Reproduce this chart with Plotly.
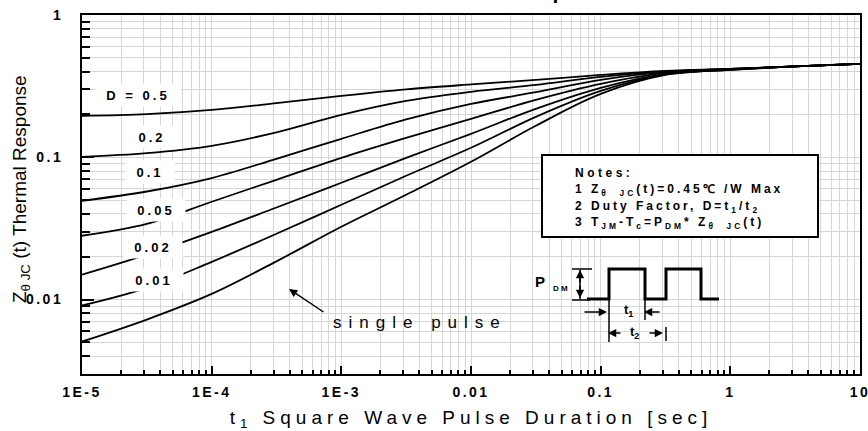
import json
import plotly.graph_objects as go

# ---- data ----
t1 = [1e-5, 3.16e-5, 1e-4, 3.16e-4, 1e-3, 3.16e-3, 1e-2, 3.16e-2, 0.1, 0.316, 1, 3.16, 10]

z_d050 = [0.1955, 0.2010, 0.2154, 0.2401, 0.2701, 0.3000, 0.3253, 0.3499, 0.3793, 0.4046, 0.4179, 0.4351, 0.4530]
z_d020 = [0.1008, 0.1070, 0.1204, 0.1497, 0.1987, 0.2491, 0.2883, 0.3227, 0.3672, 0.4013, 0.4179, 0.4351, 0.4530]
z_d010 = [0.0495, 0.0575, 0.0715, 0.0976, 0.1349, 0.1847, 0.2374, 0.2866, 0.3499, 0.3981, 0.4179, 0.4351, 0.4530]
z_d005 = [0.0281, 0.0340, 0.0487, 0.0695, 0.0992, 0.1370, 0.1863, 0.2532, 0.3280, 0.3917, 0.4145, 0.4351, 0.4530]
z_d002 = [0.01497, 0.0207, 0.0299, 0.0444, 0.0662, 0.0992, 0.1462, 0.2189, 0.3074, 0.3855, 0.4145, 0.4351, 0.4530]
z_d001 = [0.00908, 0.01208, 0.0184, 0.0290, 0.0464, 0.0742, 0.1166, 0.1924, 0.2929, 0.3824, 0.4112, 0.4351, 0.4530]
z_single = [0.00507, 0.00724, 0.01096, 0.01857, 0.0325, 0.0545, 0.0930, 0.1665, 0.2790, 0.3793, 0.4112, 0.4351, 0.4530]

series = [z_d050, z_d020, z_d010, z_d005, z_d002, z_d001, z_single]
curve_labels = ["D = 0.5", "0.2", "0.1", "0.05", "0.02", "0.01"]

x_tick_vals = [1e-5, 1e-4, 1e-3, 1e-2, 0.1, 1, 10]
x_tick_text = ["1E-5", "1E-4", "1E-3", "0.01", "0.1", "1", "10"]
y_tick_vals = [0.01, 0.1, 1]
y_tick_text = ["0.01", "0.1", "1"]

x_minor = [m * 10.0 ** e for e in range(-5, 1) for m in range(2, 10)]
y_minor = [m * 10.0 ** e for e in range(-3, 0) for m in range(2, 10) if m * 10.0 ** e >= 0.003]

W, H = 868, 431
L, R, T, B = 82, 8, 15, 57
PW, PH = W - L - R, H - T - B


def px(x):
    return (x - L) / PW


def py(y):
    return (H - B - y) / PH


def path(pts):
    return "M " + " L ".join("%.5f,%.5f" % (px(a), py(b)) for a, b in pts)


FONT = "Liberation Sans, Arial, sans-serif"

fig = go.Figure()
for z in series:
    fig.add_trace(go.Scatter(x=t1, y=z, mode="lines", line=dict(color="black", width=1.8, shape="spline"),
                             showlegend=False, hoverinfo="skip"))

annotations = []
spacing = []


def ann(text, x, y, size, bold=True, ls=0, **kw):
    t = "<b>%s</b>" % text if bold else text
    d = dict(text=t, x=px(x), y=py(y), xref="paper", yref="paper", showarrow=False,
             xanchor="center", yanchor="middle",
             font=dict(family=FONT, size=size, color="black"))
    d.update(kw)
    annotations.append(d)
    spacing.append(ls)


def arrow(x, y, ax, ay):
    annotations.append(dict(x=px(x), y=py(y), xref="paper", yref="paper", ax=ax, ay=ay, text="",
                            showarrow=True, arrowhead=2, arrowsize=1.1, arrowwidth=1.5, arrowcolor="black"))
    spacing.append(0)


# title (mostly above the page, as in the original)
ann("Transient Thermal Impedance", 473, 5.5, 21, ls=2.5, yanchor="bottom")

# curve labels with white background
label_pos = [(138, 95, 82), (152, 137, 46), (150, 172, 46), (156, 210, 56), (153, 247, 56), (154, 280, 56)]
for lab, (x, y, w) in zip(curve_labels, label_pos):
    ann(lab, x, y, 13, ls=3, bgcolor="white", width=w, height=20)

# y axis title
ann("Z<sub>θ JC</sub> (t) Thermal Response", 21, 189, 19, bold=False, textangle=-90)

# single pulse
ann("single pulse", 331, 322, 17, bold=False, ls=7, xanchor="left", align="left")
arrow(289, 289, 36, 24)

# notes
ann("Notes:", 573, 173, 12, ls=3.5, xanchor="left", align="left")
ann("1 Z<sub>θ  JC</sub>(t)=0.45℃ /W Max", 573, 190, 12, ls=3, xanchor="left", align="left")
ann("2 Duty Factor, D=t<sub>1</sub>/t<sub>2</sub>", 573, 207, 12, ls=3, xanchor="left", align="left")
ann("3 T<sub>JM</sub>-T<sub>c</sub>=P<sub>DM</sub>* Z<sub>θ  JC</sub>(t)", 573, 223, 12, ls=3,
    xanchor="left", align="left")

# pulse diagram labels
ann("P", 540, 281, 15)
ann("D M", 560, 288, 8)
ann("t<sub>1</sub>", 628, 310, 13)
ann("t<sub>2</sub>", 634, 332, 13)

for x, y, ax, ay in [(580, 270, 0, 14), (580, 298, 0, -14), (607, 312, -24, 0), (644, 312, 17, 0),
                     (608, 333, 14, 0), (663, 333, -15, 0)]:
    arrow(x, y, ax, ay)

shapes = [
    dict(type="rect", xref="paper", yref="paper", x0=px(542), x1=px(818), y0=py(237), y1=py(155),
         line=dict(color="black", width=2), fillcolor="white"),
    dict(type="path", xref="paper", yref="paper",
         path=path([(587, 299), (609, 299), (609, 269), (645, 269), (645, 299), (666, 299),
                    (666, 269), (701, 269), (701, 299), (719, 299)]),
         line=dict(color="black", width=3)),
]
thin = [[(572, 269), (592, 269)], [(572, 300), (590, 300)], [(580, 270), (580, 299)],
        [(609, 299), (609, 342)], [(645, 299), (645, 320)], [(666, 327), (666, 341)]]
for seg in thin:
    shapes.append(dict(type="path", xref="paper", yref="paper", path=path(seg),
                       line=dict(color="black", width=1.5)))

axis_common = dict(type="log", showline=True, mirror=True, linecolor="black", linewidth=2,
                   ticks="inside", tickcolor="black", tickwidth=2, showgrid=True, gridcolor="#d6d6d6",
                   gridwidth=1, zeroline=False, tickmode="array", automargin=False,
                   tickfont=dict(family=FONT, size=14, color="black", weight="bold"))

fig.update_layout(
    width=W, height=H, margin=dict(l=L, r=R, t=T, b=B, autoexpand=False),
    paper_bgcolor="white", plot_bgcolor="white",
    xaxis=dict(axis_common, range=[-5, 1], tickvals=x_tick_vals, ticktext=x_tick_text, ticklen=8,
               ticklabelstandoff=4,
               minor=dict(tickvals=x_minor, ticks="inside", ticklen=4, tickwidth=1.5, tickcolor="black",
                          showgrid=True, gridcolor="#d6d6d6", gridwidth=1),
               title=dict(text="t<sub>1</sub> Square Wave Pulse Duration [sec]", standoff=14,
                          font=dict(family=FONT, size=19, color="black"))),
    yaxis=dict(axis_common, range=[-2.523, 0], tickvals=y_tick_vals, ticktext=y_tick_text, ticklen=12,
               ticklabelstandoff=14,
               minor=dict(tickvals=y_minor, ticks="inside", ticklen=8, tickwidth=1.5, tickcolor="black",
                          showgrid=True, gridcolor="#d6d6d6", gridwidth=1)),
    annotations=annotations,
    shapes=shapes,
)

post = """
document.body.style.margin = '0';
document.body.style.overflow = 'hidden';
var gd = document.getElementById('{plot_id}');
var sp = SPACING;
gd.querySelectorAll('g.annotation').forEach(function(g){
  var i = +g.getAttribute('data-index');
  var t = g.querySelector('text');
  if (t && sp[i]) t.style.letterSpacing = sp[i] + 'px';
});
gd.querySelectorAll('g.xtick text, g.ytick text').forEach(function(t){ t.style.letterSpacing = '2.5px'; });
var xt = gd.querySelector('text.xtitle');
if (xt) xt.style.letterSpacing = '5px';
""".replace("SPACING", json.dumps(spacing))

fig.write_html("out.html", post_script=post, config={"displayModeBar": False})
